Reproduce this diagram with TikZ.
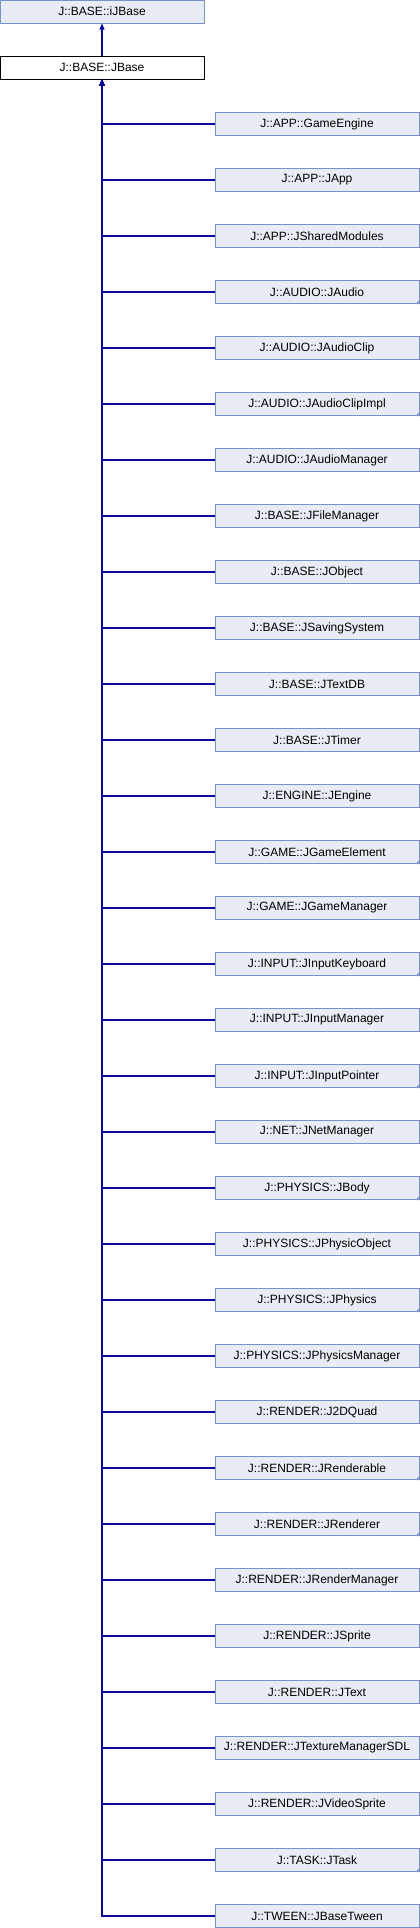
\documentclass[tikz,border=0pt]{standalone}
\usepackage{fontspec}
\setmainfont{Liberation Sans}
\usepackage{tikz}
\usetikzlibrary{arrows.meta}

\definecolor{boxfill}{RGB}{232,236,244}
\definecolor{boxline}{RGB}{124,145,200}
\definecolor{linkline}{RGB}{8,8,150}

\tikzset{
	classbox/.style={draw=boxline, fill=boxfill, line width=1pt, minimum width=204pt, minimum height=23pt, inner sep=0pt, font=\fontsize{12}{14}\selectfont},
	selfbox/.style={classbox, draw=black, fill=white},
	inherit/.style={linkline, line width=1.2pt, -{Triangle[width=5pt,length=6pt]}},
	cornermark/.style={fill=boxline}
}

\begin{document}
\begin{tikzpicture}[x=1pt, y=-1pt]
	\useasboundingbox (0,0) rectangle (420,1928);
	\node[classbox] (ibase) at (102,11.5) {J::BASE::iJBase};
	\node[selfbox] (jbase) at (102,67.5) {J::BASE::JBase};
	\draw[inherit] (jbase) -- (ibase);
	% derived classes
	\node[classbox] (c1) at (317,124) {J::APP::GameEngine};
	\node[classbox] (c2) at (317,180) {J::APP::JApp};
	\node[classbox] (c3) at (317,236) {J::APP::JSharedModules};
	\node[classbox] (c4) at (317,292) {J::AUDIO::JAudio};
	\node[classbox] (c5) at (317,348) {J::AUDIO::JAudioClip};
	\node[classbox] (c6) at (317,404) {J::AUDIO::JAudioClipImpl};
	\node[classbox] (c7) at (317,460) {J::AUDIO::JAudioManager};
	\node[classbox] (c8) at (317,516) {J::BASE::JFileManager};
	\node[classbox] (c9) at (317,572) {J::BASE::JObject};
	\node[classbox] (c10) at (317,628) {J::BASE::JSavingSystem};
	\node[classbox] (c11) at (317,684) {J::BASE::JTextDB};
	\node[classbox] (c12) at (317,740) {J::BASE::JTimer};
	\node[classbox] (c13) at (317,796) {J::ENGINE::JEngine};
	\node[classbox] (c14) at (317,852) {J::GAME::JGameElement};
	\node[classbox] (c15) at (317,908) {J::GAME::JGameManager};
	\node[classbox] (c16) at (317,964) {J::INPUT::JInputKeyboard};
	\node[classbox] (c17) at (317,1020) {J::INPUT::JInputManager};
	\node[classbox] (c18) at (317,1076) {J::INPUT::JInputPointer};
	\node[classbox] (c19) at (317,1132) {J::NET::JNetManager};
	\node[classbox] (c20) at (317,1188) {J::PHYSICS::JBody};
	\node[classbox] (c21) at (317,1244) {J::PHYSICS::JPhysicObject};
	\node[classbox] (c22) at (317,1300) {J::PHYSICS::JPhysics};
	\node[classbox] (c23) at (317,1356) {J::PHYSICS::JPhysicsManager};
	\node[classbox] (c24) at (317,1412) {J::RENDER::J2DQuad};
	\node[classbox] (c25) at (317,1468) {J::RENDER::JRenderable};
	\node[classbox] (c26) at (317,1524) {J::RENDER::JRenderer};
	\node[classbox] (c27) at (317,1580) {J::RENDER::JRenderManager};
	\node[classbox] (c28) at (317,1636) {J::RENDER::JSprite};
	\node[classbox] (c29) at (317,1692) {J::RENDER::JText};
	\node[classbox] (c30) at (317,1748) {J::RENDER::JTextureManagerSDL};
	\node[classbox] (c31) at (317,1804) {J::RENDER::JVideoSprite};
	\node[classbox] (c32) at (317,1860) {J::TASK::JTask};
	\node[classbox] (c33) at (317,1916) {J::TWEEN::JBaseTween};
	% classes with further subclasses
	\foreach \c in {c4,c6,c14,c16,c18,c20,c22,c25,c26,c32}
		\fill[cornermark] (\c.south east) -- ++(-4,0) -- ++(4,-4) -- cycle;
	\foreach \i in {1,...,33}
		\draw[inherit] (c\i.west) -| (jbase.south);
\end{tikzpicture}
\end{document}
